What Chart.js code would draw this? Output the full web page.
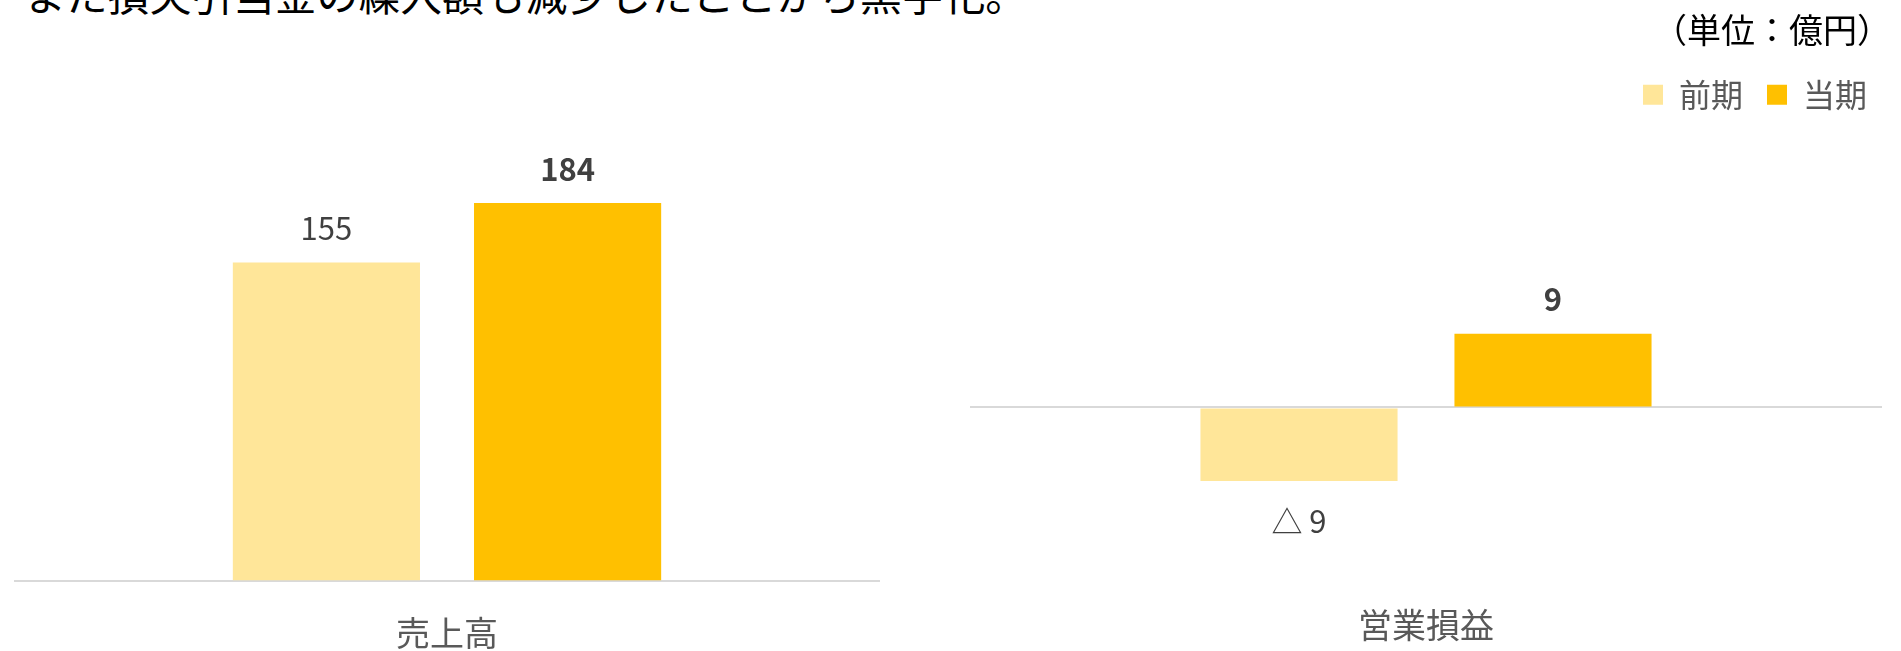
<!DOCTYPE html>
<html lang="ja">
<head>
<meta charset="utf-8">
<script src="https://cdn.jsdelivr.net/npm/chart.js@4.4.1/dist/chart.umd.min.js"></script>
<style>
  html, body { margin: 0; padding: 0; width: 1901px; height: 651px; overflow: hidden; background: #fff; }
  body { font-family: "Noto Sans CJK JP", sans-serif; }
  .note { position: absolute; left: 24px; top: -28px; font-size: 41.8px; line-height: 42px; color: #000; white-space: nowrap; }
  #salesBox { position: absolute; left: 14px; top: 0; width: 866px; height: 684px; }
  #profitBox { position: absolute; left: 970px; top: 0; width: 921px; height: 678px; }
</style>
</head>
<body>
<div class="note">また損失引当金の繰入額も減少したことから黒字化。</div>
<div id="salesBox"><canvas id="salesChart"></canvas></div>
<div id="profitBox"><canvas id="profitChart"></canvas></div>
<script>
const seriesNames = ['前期', '当期'];
const seriesColors = ['#FFE699', '#FFC000'];
const unitText = '（単位：億円）';

const salesLabels = ['売上高'];
const salesPrev = [155];
const salesCurr = [184];

const profitLabels = ['営業損益'];
const profitPrev = [-9];
const profitCurr = [9];

const FONT = '"Noto Sans CJK JP", "Noto Sans", sans-serif';

// value labels above / below each bar, negatives shown with △
const valueLabels = {
  id: 'valueLabels',
  afterDatasetsDraw(chart) {
    const ctx = chart.ctx;
    ctx.save();
    ctx.textAlign = 'center';
    ctx.textBaseline = 'middle';
    ctx.fillStyle = '#404040';
    chart.data.datasets.forEach((ds, i) => {
      const meta = chart.getDatasetMeta(i);
      meta.data.forEach((bar, j) => {
        const v = ds.data[j];
        const text = v < 0 ? '△ ' + Math.abs(v) : String(v);
        ctx.font = (i === 1 ? 'bold ' : '') + '31px ' + FONT;
        const y = v < 0 ? bar.y + 40 : bar.y - 34;
        ctx.fillText(text, bar.x, y);
      });
    });
    ctx.restore();
  }
};

function makeDatasets(prev, curr) {
  return [prev, curr].map((data, i) => ({
    label: seriesNames[i],
    data: data,
    backgroundColor: seriesColors[i],
    borderWidth: 0,
    categoryPercentage: 0.557,
    barPercentage: 0.776
  }));
}

function makeOptions(yMin, yMax, tickPad, yWidth, extra) {
  return Object.assign({
    responsive: true,
    maintainAspectRatio: false,
    animation: false,
    scales: {
      x: {
        grid: { display: false, drawTicks: false },
        border: { display: false },
        ticks: { color: '#595959', font: { size: 34, family: FONT }, padding: tickPad }
      },
      y: {
        position: 'right',
        min: yMin,
        max: yMax,
        z: 1,
        border: { display: false },
        ticks: { display: false },
        grid: {
          drawTicks: false,
          lineWidth: 2,
          color: c => c.tick.value === 0 ? '#D9D9D9' : 'rgba(0,0,0,0)'
        },
        afterFit: scale => { scale.width = yWidth; }
      }
    }
  }, extra);
}

new Chart(document.getElementById('salesChart'), {
  type: 'bar',
  data: { labels: salesLabels, datasets: makeDatasets(salesPrev, salesCurr) },
  options: makeOptions(0, 200, 31, 0, {
    layout: { padding: { top: 170 } },
    plugins: { legend: { display: false }, tooltip: { enabled: false } }
  }),
  plugins: [valueLabels]
});

new Chart(document.getElementById('profitChart'), {
  type: 'bar',
  data: { labels: profitLabels, datasets: makeDatasets(profitPrev, profitCurr) },
  options: makeOptions(-20, 35, 33, 9, {
    plugins: {
      tooltip: { enabled: false },
      legend: {
        display: true,
        position: 'top',
        align: 'end',
        title: {
          display: true,
          text: unitText,
          position: 'end',
          color: '#000',
          font: { size: 34, family: FONT },
          padding: { top: 13, bottom: 1 }
        },
        labels: {
          boxWidth: 20,
          boxHeight: 20,
          padding: 24,
          color: '#595959',
          font: { size: 32, family: FONT }
        }
      }
    }
  }),
  plugins: [valueLabels]
});
</script>
</body>
</html>
